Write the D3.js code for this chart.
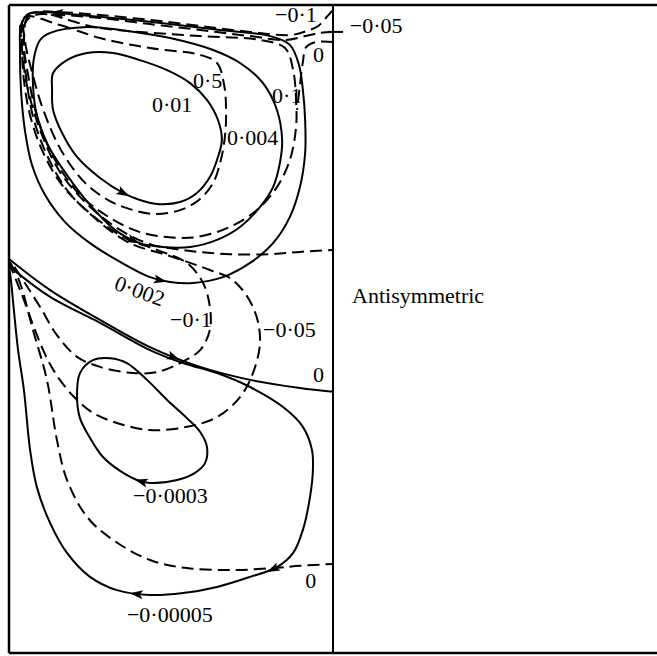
<!DOCTYPE html>
<html>
<head>
<meta charset="utf-8">
<script src="https://cdn.jsdelivr.net/npm/d3@7"></script>
<style>
  body { margin: 0; background: #fff; }
  svg { display: block; }
</style>
</head>
<body>
<div id="chart"></div>
<script>
// panel coords: x across the gap (0 = wall, 1 = centre line), y from -1 (bottom) to 1 (top)

// streamlines (solid)
const psi001 = [[0.136,0.790],[0.179,0.830],[0.241,0.852],[0.321,0.852],[0.404,0.830],[0.488,0.799],[0.559,0.759],[0.611,0.707],[0.645,0.645],[0.657,0.583],[0.645,0.531],[0.620,0.469],[0.580,0.420],[0.528,0.392],[0.457,0.386],[0.404,0.398],[0.352,0.420],[0.281,0.466],[0.210,0.531],[0.164,0.605],[0.136,0.676],[0.133,0.738]];
const psi0004 = [[0.127,0.914],[0.241,0.932],[0.343,0.923],[0.497,0.898],[0.630,0.861],[0.713,0.821],[0.784,0.759],[0.827,0.676],[0.843,0.583],[0.836,0.512],[0.815,0.438],[0.775,0.377],[0.713,0.315],[0.642,0.275],[0.559,0.253],[0.475,0.253],[0.404,0.265],[0.327,0.306],[0.250,0.383],[0.179,0.475],[0.120,0.568],[0.086,0.660],[0.074,0.753],[0.077,0.836],[0.096,0.892]];
const psi0002 = [[0.096,0.978],[0.219,0.969],[0.435,0.948],[0.651,0.923],[0.806,0.904],[0.867,0.877],[0.895,0.815],[0.907,0.738],[0.914,0.645],[0.914,0.543],[0.898,0.438],[0.867,0.346],[0.815,0.265],[0.744,0.204],[0.660,0.160],[0.568,0.142],[0.497,0.145],[0.435,0.160],[0.343,0.207],[0.250,0.265],[0.173,0.330],[0.111,0.414],[0.071,0.506],[0.049,0.614],[0.037,0.738],[0.034,0.861],[0.037,0.938],[0.059,0.972]];
const psi0 = [[0,0.216],[0.127,0.120],[0.281,0.028],[0.435,-0.056],[0.590,-0.117],[0.744,-0.157],[0.898,-0.182],[1.0,-0.194]];
const psiN0003 = [[0.210,-0.210],[0.219,-0.136],[0.259,-0.096],[0.312,-0.090],[0.364,-0.105],[0.426,-0.157],[0.488,-0.219],[0.549,-0.275],[0.590,-0.318],[0.611,-0.364],[0.605,-0.414],[0.574,-0.444],[0.519,-0.466],[0.435,-0.475],[0.395,-0.466],[0.343,-0.438],[0.290,-0.395],[0.250,-0.336],[0.219,-0.275]];
const psiN00005 = [[0,0.194],[0.127,0.099],[0.281,0.019],[0.435,-0.065],[0.537,-0.105],[0.642,-0.136],[0.744,-0.179],[0.846,-0.241],[0.907,-0.302],[0.935,-0.373],[0.938,-0.435],[0.929,-0.519],[0.907,-0.620],[0.877,-0.691],[0.827,-0.735],[0.744,-0.765],[0.642,-0.796],[0.537,-0.815],[0.435,-0.821],[0.333,-0.806],[0.250,-0.765],[0.179,-0.691],[0.127,-0.599],[0.086,-0.488],[0.065,-0.373],[0.046,-0.188],[0.028,-0.065],[0.015,0.059],[0.006,0.151],[0,0.194]];

// vorticity contours (dashed)
const om05 = [[0.049,0.963],[0.157,0.938],[0.281,0.898],[0.435,0.867],[0.590,0.846],[0.642,0.821],[0.664,0.753],[0.670,0.676],[0.667,0.599],[0.654,0.522],[0.630,0.451],[0.586,0.398],[0.528,0.367],[0.451,0.355],[0.373,0.370],[0.306,0.398],[0.235,0.451],[0.164,0.546],[0.108,0.670],[0.071,0.793],[0.049,0.892]];
const om01 = [[0.065,0.972],[0.281,0.929],[0.590,0.904],[0.775,0.892],[0.852,0.867],[0.877,0.799],[0.886,0.707],[0.886,0.623],[0.867,0.522],[0.827,0.438],[0.765,0.367],[0.682,0.315],[0.580,0.284],[0.488,0.284],[0.404,0.299],[0.312,0.343],[0.219,0.414],[0.142,0.522],[0.090,0.645],[0.059,0.784],[0.046,0.892]];
const om0Upper = [[1.0,0.886],[0.948,0.886],[0.917,0.870],[0.907,0.824],[0.898,0.753],[0.889,0.676]];
const om0Middle = [[0.034,0.938],[0.052,0.769],[0.096,0.614],[0.157,0.485],[0.250,0.377],[0.343,0.306],[0.435,0.262],[0.559,0.241],[0.682,0.231],[0.806,0.231],[0.898,0.238],[1.0,0.244]];
const omN01 = [[1.0,0.985],[0.978,0.960],[0.954,0.935],[0.920,0.920],[0.867,0.907],[0.744,0.917],[0.590,0.935],[0.435,0.954],[0.281,0.969],[0.157,0.978],[0.080,0.978],[0.046,0.960],[0.040,0.892],[0.046,0.769],[0.065,0.660],[0.102,0.552],[0.164,0.444],[0.256,0.352],[0.358,0.281],[0.457,0.244],[0.549,0.204],[0.599,0.142],[0.620,0.068],[0.620,-0.003],[0.590,-0.065],[0.528,-0.105],[0.457,-0.133],[0.383,-0.136],[0.281,-0.117],[0.210,-0.086],[0.148,-0.019],[0.096,0.068],[0.049,0.142],[0.009,0.204]];
const omN005 = [[1.0,0.917],[0.960,0.914],[0.914,0.904],[0.852,0.892],[0.744,0.904],[0.590,0.923],[0.435,0.941],[0.281,0.960],[0.157,0.969],[0.080,0.969],[0.052,0.948],[0.046,0.877],[0.056,0.753],[0.077,0.645],[0.117,0.537],[0.179,0.429],[0.272,0.336],[0.373,0.265],[0.497,0.225],[0.620,0.182],[0.691,0.151],[0.753,0.068],[0.775,-0.034],[0.753,-0.136],[0.713,-0.210],[0.642,-0.272],[0.549,-0.302],[0.435,-0.312],[0.333,-0.290],[0.259,-0.259],[0.204,-0.213],[0.157,-0.157],[0.120,-0.096],[0.080,-0.003],[0.046,0.090],[0.022,0.151],[0.003,0.198]];
const om0Lower = [[0.003,0.207],[0.034,0.142],[0.074,-0.003],[0.117,-0.157],[0.148,-0.343],[0.179,-0.466],[0.241,-0.580],[0.321,-0.651],[0.435,-0.713],[0.549,-0.738],[0.691,-0.744],[0.815,-0.738],[0.898,-0.731],[1.0,-0.725]];

// flow arrows: point on the streamline and sense along the listed points
const arrowOn = ['psi001', 'psi0004', 'psi0002', 'psi0002', 'psi0', 'psiN0003', 'psiN00005', 'psiN00005'];
const arrowAt = [[0.352,0.420],[0.383,0.275],[0.466,0.151],[0.148,0.966],[0.506,-0.090],[0.410,-0.470],[0.395,-0.815],[0.815,-0.738]];
const arrowSense = [-1, -1, -1, -1, 1, 1, 1, 1];

// contour labels
const labelText = ['0·01', '0·5', '0·1', '0·004', '−0·1', '−0·05', '0', '0·002', '−0·1', '−0·05', '0', '−0·0003', '0', '−0·00005'];
const labelAt = [[0.441,0.670],[0.568,0.744],[0.812,0.698],[0.673,0.568],[0.821,0.948],[1.052,0.914],[0.938,0.824],[0.321,0.123],[0.497,0.006],[0.784,-0.025],[0.938,-0.164],[0.383,-0.537],[0.914,-0.799],[0.364,-0.904]];
const labelAngle = [0, 0, 0, 0, 0, 0, 0, 20, 0, 0, 0, 0, 0, 0];
const panelTitle = 'Antisymmetric';

const W = 657, H = 656;
const svg = d3.select('#chart').append('svg').attr('width', W).attr('height', H);
svg.append('rect').attr('width', W).attr('height', H).attr('fill', '#fff');

const x = d3.scaleLinear().domain([0, 1]).range([9, 333]);
const y = d3.scaleLinear().domain([-1, 1]).range([653, 5]);

const g = svg.append('g');

const open = d3.line().x((d) => x(d[0])).y((d) => y(d[1])).curve(d3.curveCatmullRom.alpha(0.5));
const closed = d3.line().x((d) => x(d[0])).y((d) => y(d[1])).curve(d3.curveCatmullRomClosed.alpha(0.5));

const contours = [
  { id: 'om05', pts: om05, closed: true, dashed: true },
  { id: 'om01', pts: om01, closed: true, dashed: true },
  { id: 'om0Upper', pts: om0Upper, closed: false, dashed: true },
  { id: 'om0Middle', pts: om0Middle, closed: false, dashed: true },
  { id: 'omN01', pts: omN01, closed: false, dashed: true },
  { id: 'omN005', pts: omN005, closed: false, dashed: true },
  { id: 'om0Lower', pts: om0Lower, closed: false, dashed: true },
  { id: 'psi001', pts: psi001, closed: true, dashed: false },
  { id: 'psi0004', pts: psi0004, closed: true, dashed: false },
  { id: 'psi0002', pts: psi0002, closed: true, dashed: false },
  { id: 'psi0', pts: psi0, closed: false, dashed: false },
  { id: 'psiN0003', pts: psiN0003, closed: true, dashed: false },
  { id: 'psiN00005', pts: psiN00005, closed: false, dashed: false },
];

const nodes = {};
contours.forEach((c) => {
  const p = g.append('path')
    .attr('d', (c.closed ? closed : open)(c.pts))
    .attr('fill', 'none')
    .attr('stroke', '#000')
    .attr('stroke-width', 2)
    .attr('stroke-dasharray', c.dashed ? '12,6' : null);
  nodes[c.id] = p.node();
});

// arrowheads
arrowOn.forEach((id, i) => {
  const node = nodes[id];
  const L = node.getTotalLength();
  const px = x(arrowAt[i][0]), py = y(arrowAt[i][1]);
  let best = 0, bd = Infinity;
  for (let s = 0; s <= L; s += 0.5) {
    const p = node.getPointAtLength(s);
    const d = (p.x - px) ** 2 + (p.y - py) ** 2;
    if (d < bd) { bd = d; best = s; }
  }
  const p0 = node.getPointAtLength(Math.max(0, best - 2));
  const p1 = node.getPointAtLength(Math.min(L, best + 2));
  let ang = Math.atan2(p1.y - p0.y, p1.x - p0.x) * 180 / Math.PI;
  if (arrowSense[i] < 0) ang += 180;
  const p = node.getPointAtLength(best);
  g.append('path')
    .attr('d', 'M7,0 L-6,-4.5 L-3,0 L-6,4.5 Z')
    .attr('transform', `translate(${p.x},${p.y}) rotate(${ang})`)
    .attr('fill', '#000');
});

// frame
svg.append('line').attr('x1', 9).attr('x2', W).attr('y1', y(1)).attr('y2', y(1)).attr('stroke', '#000').attr('stroke-width', 2.5);
svg.append('line').attr('x1', 9).attr('x2', W).attr('y1', y(-1)).attr('y2', y(-1)).attr('stroke', '#000').attr('stroke-width', 2.5);
svg.append('line').attr('x1', x(0)).attr('x2', x(0)).attr('y1', y(1)).attr('y2', y(-1)).attr('stroke', '#000').attr('stroke-width', 2.5);
svg.append('line').attr('x1', x(1)).attr('x2', x(1)).attr('y1', y(1)).attr('y2', y(-1)).attr('stroke', '#000').attr('stroke-width', 2);

// leader for the corner label
svg.append('line').attr('x1', x(0.985)).attr('x2', x(1.031)).attr('y1', y(0.917)).attr('y2', y(0.917)).attr('stroke', '#000').attr('stroke-width', 2);

// labels
labelText.forEach((t, i) => {
  const lx = x(labelAt[i][0]), ly = y(labelAt[i][1]);
  svg.append('text')
    .attr('x', lx).attr('y', ly)
    .attr('transform', labelAngle[i] ? `rotate(${labelAngle[i]},${lx},${ly})` : null)
    .attr('font-family', '"Liberation Serif", "DejaVu Serif", serif')
    .attr('font-size', 22)
    .attr('fill', '#000')
    .text(t);
});

svg.append('text')
  .attr('x', x(1.059)).attr('y', y(0.080))
  .attr('font-family', '"Liberation Serif", "DejaVu Serif", serif')
  .attr('font-size', 22)
  .attr('fill', '#000')
  .text(panelTitle);
</script>
</body>
</html>
